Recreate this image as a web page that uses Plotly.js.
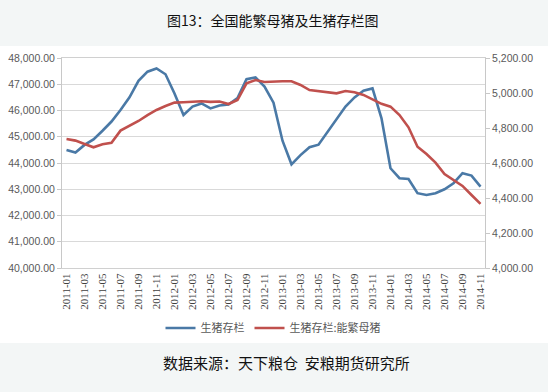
<!DOCTYPE html>
<html>
<head>
<meta charset="utf-8">
<script src="https://cdn.plot.ly/plotly-3.0.1.min.js"></script>
<style>
html,body{margin:0;padding:0;background:#f3f6f6;}
#chart{width:548px;height:392px;}
</style>
</head>
<body>
<div id="chart"></div>
<script>
// Months 2011-01 .. 2014-11
const months = [
  "2011-01","2011-02","2011-03","2011-04","2011-05","2011-06","2011-07","2011-08","2011-09","2011-10","2011-11","2011-12",
  "2012-01","2012-02","2012-03","2012-04","2012-05","2012-06","2012-07","2012-08","2012-09","2012-10","2012-11","2012-12",
  "2013-01","2013-02","2013-03","2013-04","2013-05","2013-06","2013-07","2013-08","2013-09","2013-10","2013-11","2013-12",
  "2014-01","2014-02","2014-03","2014-04","2014-05","2014-06","2014-07","2014-08","2014-09","2014-10","2014-11"
];
// 生猪存栏 (left axis)
const hogInventory = [
  44500,44400,44690,44900,45230,45580,46020,46500,47130,47480,47600,47380,
  46650,45830,46150,46270,46080,46190,46230,46470,47190,47260,46910,46300,
  44850,43950,44300,44600,44700,45190,45700,46150,46500,46750,46840,45700,
  43800,43420,43390,42850,42780,42850,43000,43230,43610,43520,43100
];
// 生猪存栏:能繁母猪 (right axis)
const sowInventory = [
  4737,4728,4709,4690,4707,4716,4785,4811,4840,4874,4903,4926,
  4945,4947,4949,4953,4949,4951,4937,4960,5055,5074,5063,5067,
  5067,5067,5046,5017,5011,5008,4998,5011,5004,4989,4964,4938,
  4922,4874,4804,4693,4651,4602,4537,4503,4469,4417,4366
];
const seriesNames = ["生猪存栏","生猪存栏:能繁母猪"];
const titleText = "图13：全国能繁母猪及生猪存栏图";
const sourceText = "数据来源：天下粮仓  安粮期货研究所";
const tickLabels = months.filter((m,i)=>i%2===0);

const traces = [
  {x: months, y: hogInventory, name: seriesNames[0], type:"scatter", mode:"lines",
   line:{color:"#4a79a6", width:2.6}, yaxis:"y"},
  {x: months, y: sowInventory, name: seriesNames[1], type:"scatter", mode:"lines",
   line:{color:"#c0504d", width:2.6}, yaxis:"y2"}
];

const tickFont = {family:"Liberation Sans, Arial, sans-serif", size:10.5, color:"#595959"};
const layout = {
  width:548, height:392,
  margin:{l:62, r:63, t:58, b:124},
  paper_bgcolor:"#f3f6f6",
  plot_bgcolor:"#ffffff",
  showlegend:true,
  legend:{orientation:"h", x:0.5, xanchor:"center", y:-0.286, yanchor:"middle",
          font:{family:"Noto Sans CJK SC, sans-serif", size:11, color:"#595959"},
          bgcolor:"rgba(0,0,0,0)", itemwidth:30, tracegroupgap:0},
  xaxis:{type:"category", range:[-0.5, months.length-0.5],
         tickmode:"array", tickvals:tickLabels, ticktext:tickLabels,
         tickangle:-90, tickfont:{family:"Liberation Serif, serif", size:11, color:"#404040"},
         showgrid:false, showline:true, linecolor:"#d0d0d0", linewidth:1, mirror:true,
         ticks:"", fixedrange:true},
  yaxis:{range:[40000,48000], dtick:1000, tickformat:",.2f",
         tickfont:tickFont, showgrid:true, gridcolor:"#d9d9d9", gridwidth:1,
         showline:true, linecolor:"#c8c8c8", linewidth:1,
         ticks:"outside", ticklen:4, tickcolor:"#c8c8c8", zeroline:false},
  yaxis2:{range:[4000,5200], dtick:200, tickformat:",.2f", overlaying:"y", side:"right",
          tickfont:tickFont, showgrid:false, showline:true, linecolor:"#c8c8c8", linewidth:1,
          ticks:"outside", ticklen:4, tickcolor:"#c8c8c8", zeroline:false},
  shapes:[
    {type:"rect", xref:"paper", yref:"paper", x0:-0.2, x1:1.2, y0:-0.357, y1:1.057,
     fillcolor:"#ffffff", line:{width:0}, layer:"below"}
  ],
  annotations:[
    {text:titleText, xref:"paper", yref:"paper", x:0.499, y:1.181, xanchor:"center", yanchor:"middle",
     showarrow:false, font:{family:"Noto Sans CJK SC, sans-serif", size:14, color:"#111111"}},
    {text:sourceText, xref:"paper", yref:"paper", x:0.53, y:-0.452, xanchor:"center", yanchor:"middle",
     showarrow:false, font:{family:"Noto Sans CJK SC, sans-serif", size:15, color:"#111111"}}
  ]
};

Plotly.newPlot("chart", traces, layout, {displayModeBar:false, staticPlot:true});
</script>
</body>
</html>
